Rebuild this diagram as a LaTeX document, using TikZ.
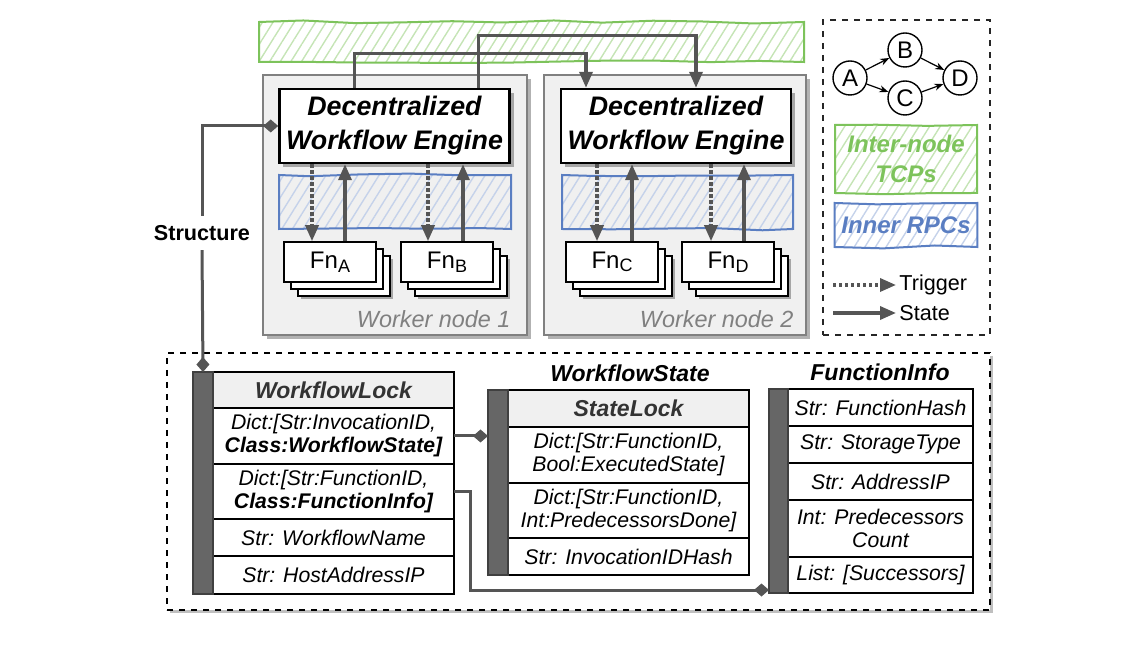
\documentclass[tikz,border=0pt]{standalone}
\usepackage{fontspec}
\setmainfont{Liberation Sans}
\usetikzlibrary{arrows.meta,positioning,shadows,patterns.meta,decorations.pathmorphing}

\definecolor{tcpgreen}{HTML}{7DC35B}
\definecolor{rpcblue}{HTML}{5A7EC2}
\definecolor{conngray}{HTML}{555555}
\definecolor{workfill}{HTML}{F0F0F0}

\newcommand{\fnsub}[1]{Fn\raisebox{-1.8pt}{\fontsize{9}{9}\selectfont #1}}

\begin{document}
\pgfmathsetseed{11}
\begin{tikzpicture}[x=0.5pt,y=-0.5pt,
conn/.style={draw=conngray,line width=1.7pt},
stat/.style={conn,-{Triangle[length=8pt,width=6.5pt]}},
trig/.style={stat,dash pattern=on 1.7pt off 1.3pt},
dia/.style={conn,line width=1.5pt,-{Diamond[length=7.5pt,width=6.5pt]}},
worker/.style={draw=black!50,line width=0.8pt,fill=workfill,minimum width=132pt,minimum height=130pt,
  drop shadow={shadow xshift=2pt,shadow yshift=-2pt,fill=black!30,opacity=1}},
wlabel/.style={text=black!50,font=\fontsize{11.7}{13}\selectfont\itshape,inner sep=0pt},
engine/.style={draw,line width=1.2pt,fill=white,minimum width=113.5pt,minimum height=37pt,align=center,
  font=\fontsize{13.4}{17}\selectfont\bfseries\itshape,
  drop shadow={shadow xshift=2pt,shadow yshift=-2pt,fill=black!35,opacity=1}},
fnbox/.style={draw,line width=0.8pt,fill=white,minimum width=46pt,minimum height=20pt,
  font=\fontsize{12}{14}\selectfont,
  general shadow={shadow xshift=8.5pt,shadow yshift=-8.5pt,fill=black!35},
  copy shadow={shadow xshift=7pt,shadow yshift=-7pt},
  copy shadow={shadow xshift=3.5pt,shadow yshift=-3.5pt}},
tcpband/.style={draw=tcpgreen,line width=1pt,
  pattern={Lines[angle=58,distance=4.5pt,line width=0.7pt]},pattern color=tcpgreen!45,
  decorate,decoration={random steps,segment length=25pt,amplitude=0.9pt}},
rpcband/.style={tcpband,draw=rpcblue,pattern color=rpcblue!35},
area/.style={draw,dashed,line width=0.7pt,fill=white,
  drop shadow={shadow xshift=1.5pt,shadow yshift=-1.5pt,fill=black!25,opacity=1}},
legbox/.style={draw=black!85,dashed,line width=0.7pt},
row/.style={draw,line width=0.8pt,fill=white,outer sep=0pt,inner sep=1pt,align=center,
  minimum width=120.5pt,font=\fontsize{10.6}{11.5}\selectfont\itshape},
hrow/.style={row,fill=black!6,text=black!80,font=\fontsize{11.5}{13}\selectfont\bfseries\itshape},
bar/.style={draw=black!75,line width=0.8pt,fill=black!60,outer sep=0pt,inner sep=0pt,minimum width=10pt},
title/.style={font=\fontsize{11.5}{13}\selectfont\bfseries\itshape},
gnode/.style={circle,draw,line width=0.7pt,minimum size=17pt,inner sep=0pt,font=\fontsize{12}{14}\selectfont},
garrow/.style={line width=0.6pt,-{Stealth[length=4.5pt,width=3.5pt]}},
legtext/.style={font=\fontsize{10.8}{13}\selectfont,inner sep=1.5pt}]
\useasboundingbox (0,0) rectangle (1124,646);

% inter-node band and worker nodes
\node[tcpband,minimum width=272.5pt,minimum height=20pt] (tcp) at (531.5,42) {};
\node[worker] (w1) at (395,205) {};
\node[worker,minimum width=131pt] (w2) at (675,205) {};
\node[wlabel,anchor=base east] (w1l) at ([xshift=-8.5pt,yshift=4pt]w1.south east) {Worker node 1};
\node[wlabel,anchor=base east] (w2l) at ([xshift=-6.5pt,yshift=4pt]w2.south east) {Worker node 2};
\node[rpcband,minimum width=116pt,minimum height=27pt] (rpc1) at (395,202) {};
\node[rpcband,minimum width=115.5pt,minimum height=27pt] (rpc2) at (677.5,202) {};

\node[engine] (e1) at (394.5,126) {Decentralized\\Workflow Engine};
\node[engine] (e2) at (676,126) {Decentralized\\Workflow Engine};

\node[fnbox] (fa) at (330,262) {\fnsub{A}};
\node[fnbox] (fb) at (447,262) {\fnsub{B}};
\node[fnbox] (fc) at (612,262) {\fnsub{C}};
\node[fnbox] (fd) at (728,262) {\fnsub{D}};

\foreach \f/\e/\d/\s in {fa/e1/-9/7.5,fb/e1/-9.5/8,fc/e2/-7.5/10,fd/e2/-8.5/8}{
  \draw[trig] ([xshift=\d pt]\f.north |- \e.south) -- ([xshift=\d pt]\f.north);
  \draw[stat] ([xshift=\s pt]\f.north) -- ([xshift=\s pt]\f.north |- \e.south);
}
\draw[stat] ([xshift=-20pt]e1.north) -- ++(0,-34) -| ([xshift=-45pt]e2.north);
\draw[stat] ([xshift=42pt]e1.north) -- ++(0,-52) -| ([xshift=10pt]e2.north);

% legend
\node[legbox,minimum width=83.5pt,minimum height=157.5pt] (lg) at (906.5,177.5) {};
\node[gnode] (ga) at (850,78) {A};
\node[gnode] (gb) at (905,50) {B};
\node[gnode] (gc) at (905,98) {C};
\node[gnode] (gd) at (960,78) {D};
\draw[garrow] (ga) -- (gb);
\draw[garrow] (ga) -- (gc);
\draw[garrow] (gb) -- (gd);
\draw[garrow] (gc) -- (gd);
\node[tcpband,minimum width=71pt,minimum height=34pt,align=center,text=tcpgreen,
  font=\fontsize{12}{15}\selectfont\bfseries\itshape] (lt) at (906,159) {Inter-node\\TCPs};
\node[rpcband,minimum width=71pt,minimum height=22pt,text=rpcblue,
  font=\fontsize{12}{14}\selectfont\bfseries\itshape] (lr) at (906,225) {Inner RPCs};
\coordinate (tg0) at (833,285);
\node[legtext,anchor=west] (tg) at (896,285) {Trigger};
\draw[trig] (tg0) -- (tg.west);
\coordinate (sg0) at (833,313);
\node[legtext,anchor=west] (sg) at (896,313) {State};
\draw[stat] (sg0) -- (sg.west);

% structure classes
\node[area,minimum width=411.5pt,minimum height=128.5pt] (db) at (578.5,481.5) {};

\node[hrow,minimum height=18pt] (wl0) at (333.5,390) {WorkflowLock};
\node[row,minimum height=28pt,below=0pt of wl0] (wl1) {Dict:[Str:InvocationID,\\\textbf{Class:WorkflowState]}};
\node[row,minimum height=27.5pt,below=0pt of wl1] (wl2) {Dict:[Str:FunctionID,\\\textbf{Class:FunctionInfo]}};
\node[row,minimum height=18.5pt,below=0pt of wl2] (wl3) {Str: WorkflowName};
\node[row,minimum height=19pt,below=0pt of wl3] (wl4) {Str: HostAddressIP};
\node[bar,minimum height=111pt,anchor=north east] (wlbar) at (wl0.north west) {};

\node[title] (wst) at (630,373) {WorkflowState};
\node[hrow,minimum height=18.5pt] (ws0) at (628.5,408.5) {StateLock};
\node[row,minimum height=28pt,below=0pt of ws0] (ws1) {Dict:[Str:FunctionID,\\Bool:ExecutedState]};
\node[row,minimum height=27.5pt,below=0pt of ws1] (ws2) {Dict:[Str:FunctionID,\\Int:PredecessorsDone]};
\node[row,minimum height=18.5pt,below=0pt of ws2] (ws3) {Str: InvocationIDHash};
\node[bar,minimum height=92.5pt,anchor=north east] (wsbar) at (ws0.north west) {};

\node[title] (fit) at (880,372) {FunctionInfo};
\node[row,minimum width=92.5pt,minimum height=18.5pt] (fi1) at (880.5,407.5) {Str: FunctionHash};
\node[row,minimum width=92.5pt,minimum height=18.5pt,below=0pt of fi1] (fi2) {Str: StorageType};
\node[row,minimum width=92.5pt,minimum height=18.5pt,below=0pt of fi2] (fi3) {Str: AddressIP};
\node[row,minimum width=92.5pt,minimum height=28.5pt,below=0pt of fi3] (fi4) {Int: Predecessors\\Count};
\node[row,minimum width=92.5pt,minimum height=18pt,below=0pt of fi4] (fi5) {List: [Successors]};
\node[bar,minimum width=9.5pt,minimum height=102pt,anchor=north east] (fibar) at (fi1.north west) {};

\draw[dia] (wl1.east) -- (wl1.east -| wsbar.west);
\draw[dia] (wl2.east) -- ++(16,0) |- ([yshift=1.5pt]fibar.south west);

% structure link
\node[font=\fontsize{10.8}{13}\selectfont\bfseries,inner ysep=4.5pt] (st) at (202,233) {Structure};
\draw[dia] (st.north) |- (e1.west);
\draw[dia] (st.south) -- (wlbar.north);
\end{tikzpicture}
\end{document}
